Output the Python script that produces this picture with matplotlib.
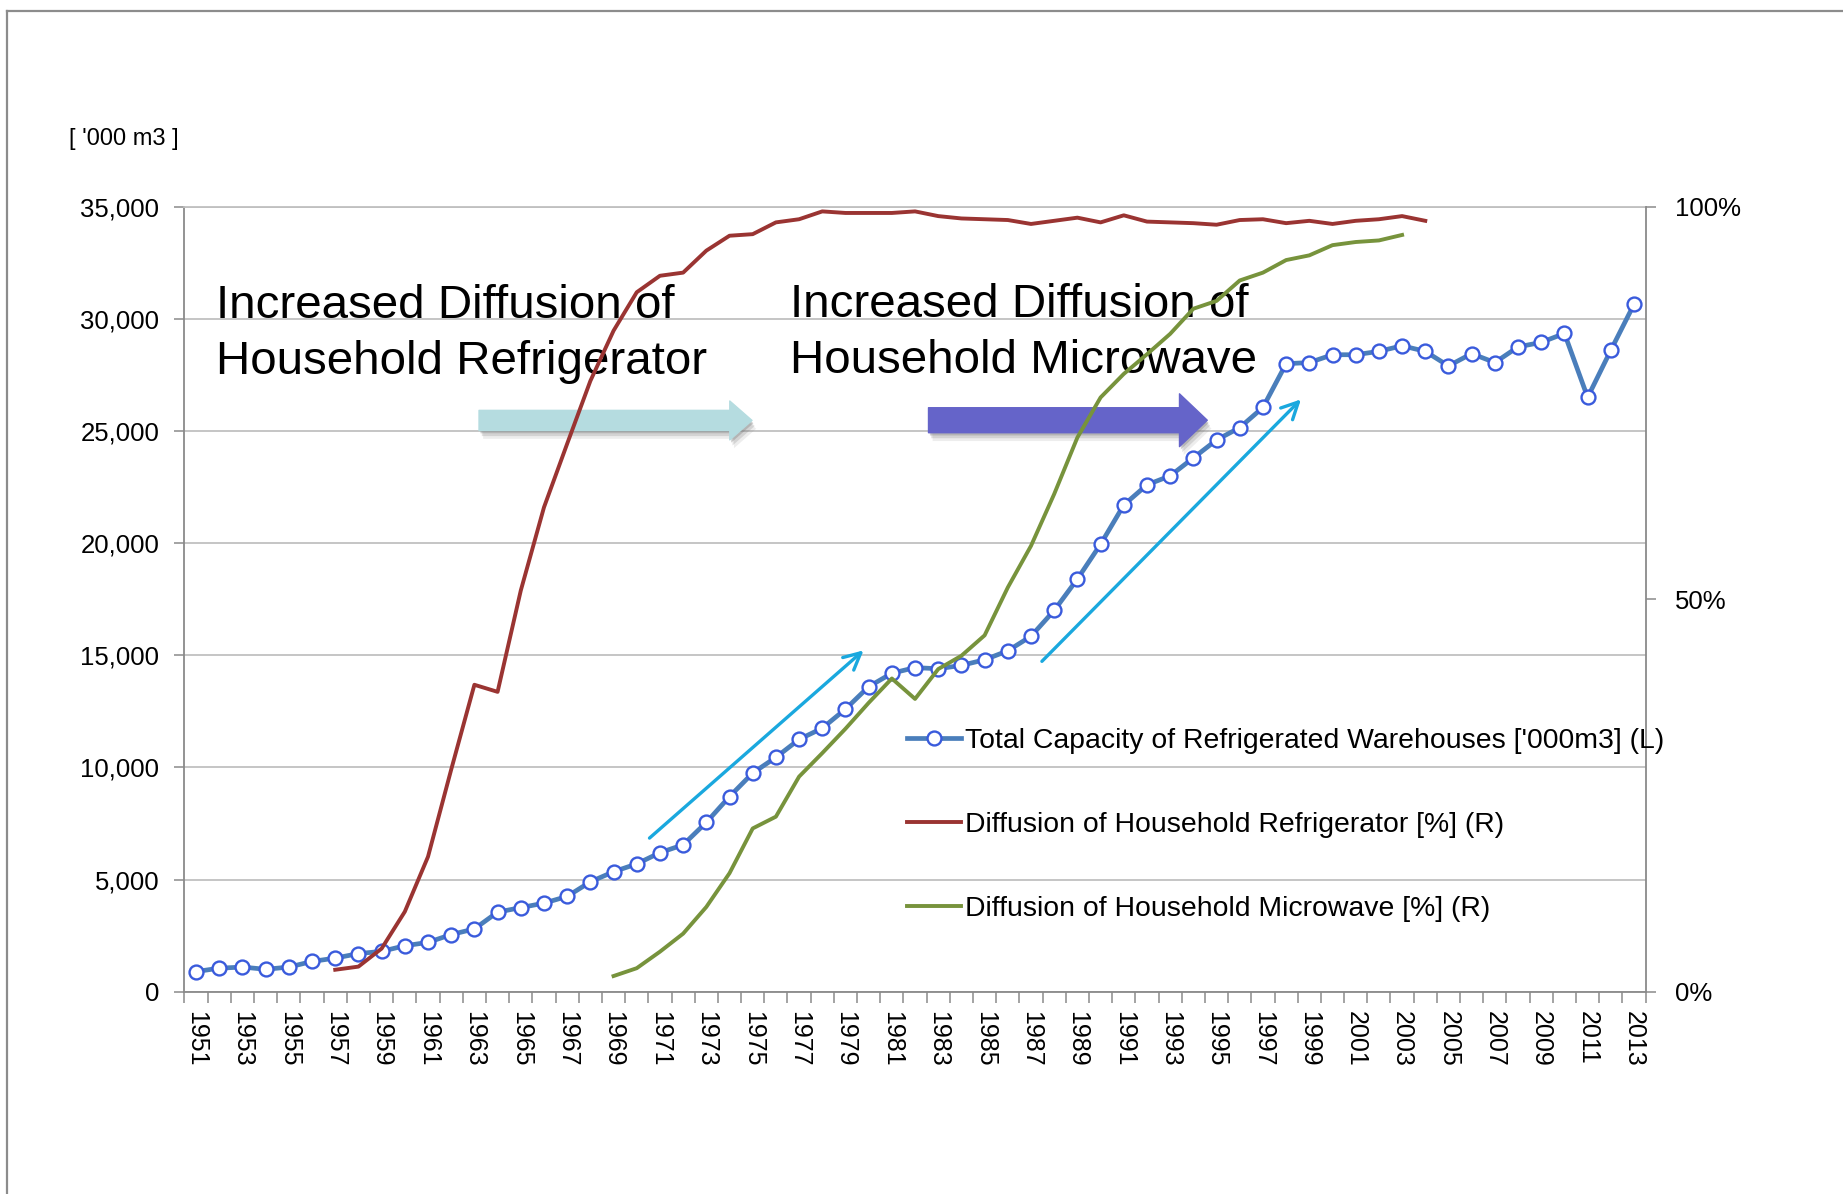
import numpy as np
import matplotlib
matplotlib.use("Agg")
import matplotlib.pyplot as plt
from matplotlib.patches import FancyArrowPatch, ArrowStyle
from matplotlib.lines import Line2D
from matplotlib.ticker import FuncFormatter, FixedLocator
import matplotlib.patheffects as pe

plt.rcParams['font.family'] = ['Liberation Sans', 'DejaVu Sans']

# ---------------- data ----------------
years = list(range(1951, 2014))
capacity = [900, 1050, 1100, 1000, 1100, 1350, 1500, 1700, 1800, 2050,
            2200, 2550, 2800, 3550, 3750, 3950, 4250, 4900, 5350, 5700,
            6200, 6550, 7550, 8700, 9750, 10450, 11250, 11750, 12600, 13600,
            14200, 14450, 14400, 14550, 14800, 15200, 15850, 17000, 18400, 19950,
            21700, 22600, 23000, 23800, 24600, 25150, 26050, 28000, 28050, 28400,
            28400, 28550, 28800, 28550, 27900, 28450, 28050, 28750, 28950, 29350,
            26500, 28600, 30650]

refrig_years = list(range(1957, 2005))
refrig = [2.8, 3.2, 5.5, 10.2, 17.2, 28.3, 39.1, 38.2, 51.1, 61.7,
          69.8, 77.8, 84.2, 89.1, 91.2, 91.6, 94.4, 96.3, 96.5, 98.0,
          98.4, 99.4, 99.2, 99.2, 99.2, 99.4, 98.8, 98.5, 98.4, 98.3,
          97.8, 98.2, 98.6, 98.0, 98.9, 98.1, 98.0, 97.9, 97.7, 98.3,
          98.4, 97.9, 98.2, 97.8, 98.2, 98.4, 98.8, 98.2]

micro_years = list(range(1969, 2004))
micro = [2.0, 3.0, 5.1, 7.4, 10.8, 15.1, 20.8, 22.3, 27.4, 30.4,
         33.5, 36.8, 39.9, 37.3, 41.1, 42.8, 45.4, 51.5, 56.8, 63.4,
         70.6, 75.7, 78.7, 81.2, 83.8, 87.0, 88.0, 90.6, 91.6, 93.2,
         93.8, 95.1, 95.5, 95.7, 96.4]

left_ticks = [0, 5000, 10000, 15000, 20000, 25000, 30000, 35000]
right_ticks = [0, 50, 100]
year_labels = years[::2]

labels = ["Total Capacity of Refrigerated Warehouses ['000m3] (L)",
          "Diffusion of Household Refrigerator [%] (R)",
          "Diffusion of Household Microwave [%] (R)"]

# ---------------- style ----------------
C_BLUE = '#4A7EBB'
C_MARK = '#3A5BDC'
C_RED = '#9A3432'
C_GREEN = '#77933C'
C_LIGHT = '#B5DCE0'
C_PURPLE = '#6564C9'
C_CYAN = '#1AA8DE'
C_GRID = '#C0C0C0'
C_AXIS = '#8A8A8A'

fig = plt.figure(figsize=(18.43, 11.94), dpi=100)
ax = fig.add_axes([0.1001, 0.1694, 0.7928, 0.6575])

ax.set_xlim(1950.5, 2013.5)
ax.set_ylim(0, 35000)
ax.set_yticks(left_ticks)
ax.yaxis.set_major_formatter(FuncFormatter(lambda v, p: f"{int(v):,}"))
ax.set_xticks(year_labels)
ax.set_xticklabels([str(y) for y in year_labels])
ax.xaxis.set_minor_locator(FixedLocator([y - 0.5 for y in years] + [years[-1] + 0.5]))
ax.tick_params(axis='x', which='major', length=0, pad=14, labelsize=18, labelrotation=-90)
ax.tick_params(axis='x', which='minor', length=8, width=1.1, color=C_AXIS, direction='out')
ax.tick_params(axis='y', length=7, width=1.1, color=C_AXIS, pad=11, labelsize=18.5)
ax.yaxis.grid(True, color=C_GRID, lw=1.3)
ax.set_axisbelow(True)
for s in ['left', 'bottom']:
    ax.spines[s].set_color(C_AXIS)
    ax.spines[s].set_linewidth(1.3)
ax.spines['right'].set_visible(False)
ax.spines['top'].set_color(C_GRID)
ax.spines['top'].set_linewidth(1.3)

# annotations (below data lines)
ax.text(1951.85, 30050, "Increased Diffusion of", fontsize=34.2, va='baseline', ha='left', zorder=1)
ax.text(1951.85, 27530, "Household Refrigerator", fontsize=34.2, va='baseline', ha='left', zorder=1)
ax.text(1976.6, 30090, "Increased Diffusion of", fontsize=34.2, va='baseline', ha='left', zorder=1)
ax.text(1976.6, 27570, "Household Microwave", fontsize=34.2, va='baseline', ha='left', zorder=1)

shadow = [pe.SimplePatchShadow(offset=(1, -2), shadow_rgbFace='#666666', alpha=0.30),
          pe.SimplePatchShadow(offset=(2, -4), shadow_rgbFace='#777777', alpha=0.22),
          pe.SimplePatchShadow(offset=(3, -6), shadow_rgbFace='#888888', alpha=0.15),
          pe.Normal()]
a1 = FancyArrowPatch((1963.2, 25470), (1974.97, 25470),
                     arrowstyle=ArrowStyle.Simple(head_length=16, head_width=28, tail_width=14.5),
                     mutation_scale=1, shrinkA=0, shrinkB=0, color=C_LIGHT, zorder=2,
                     path_effects=shadow)
a2 = FancyArrowPatch((1982.58, 25480), (1994.6, 25480),
                     arrowstyle=ArrowStyle.Simple(head_length=20, head_width=38, tail_width=18),
                     mutation_scale=1, shrinkA=0, shrinkB=0, color=C_PURPLE, zorder=2,
                     path_effects=shadow)
ax.add_patch(a1)
ax.add_patch(a2)

ax.annotate('', xy=(1979.78, 15220), xytext=(1970.55, 6850),
            arrowprops=dict(arrowstyle='->', color=C_CYAN, lw=2.4, mutation_scale=30,
                            shrinkA=0, shrinkB=0), zorder=3)
ax.annotate('', xy=(1998.64, 26410), xytext=(1987.47, 14730),
            arrowprops=dict(arrowstyle='->', color=C_CYAN, lw=2.4, mutation_scale=30,
                            shrinkA=0, shrinkB=0), zorder=3)

l1, = ax.plot(years, capacity, color=C_BLUE, lw=3.4, marker='o', ms=10,
              mfc='white', mec=C_MARK, mew=1.7, zorder=5, label=labels[0])

ax2 = ax.twinx()
ax2.set_ylim(0, 100)
ax2.set_yticks(right_ticks)
ax2.yaxis.set_major_formatter(FuncFormatter(lambda v, p: f"{int(v)}%"))
ax2.tick_params(axis='y', length=7, width=1.1, color=C_AXIS, pad=14, labelsize=18.5)
for s in ['left', 'top', 'bottom']:
    ax2.spines[s].set_visible(False)
ax2.spines['right'].set_color(C_AXIS)
ax2.spines['right'].set_linewidth(1.3)

l2, = ax2.plot(refrig_years, refrig, color=C_RED, lw=2.8, label=labels[1])
l3, = ax2.plot(micro_years, micro, color=C_GREEN, lw=2.8, label=labels[2])

ax2.legend(handles=[l1, l2, l3], labels=labels, loc='upper left',
           bbox_to_anchor=(0.4948, 0.336), frameon=False, fontsize=20.4,
           handlelength=1.9, handletextpad=0.12, labelspacing=2.05,
           borderpad=0, borderaxespad=0)

fig.text(0.067, 0.8838, "[ '000 m3 ]", ha='center', va='center', fontsize=17)

# slide frame
fig.add_artist(Line2D([0.0038, 0.0038], [0, 0.991], transform=fig.transFigure,
                      color='#8C8C8C', lw=1.6))
fig.add_artist(Line2D([0.0038, 1.0], [0.991, 0.991], transform=fig.transFigure,
                      color='#8C8C8C', lw=1.6))

fig.savefig('out.png', dpi=100)
